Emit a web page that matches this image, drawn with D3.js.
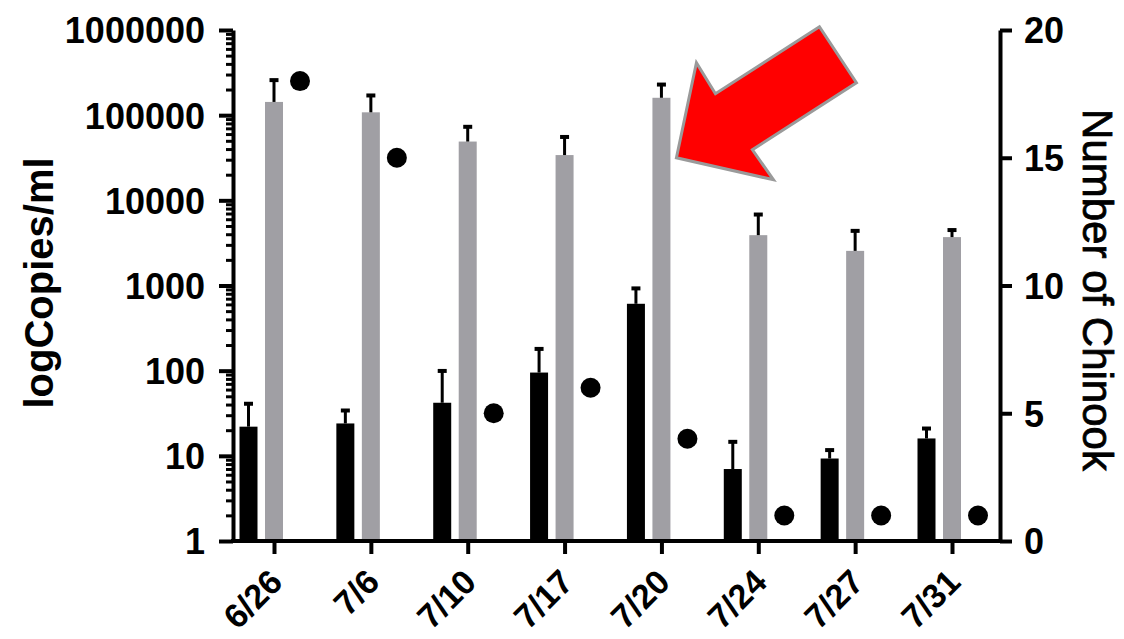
<!DOCTYPE html>
<html>
<head>
<meta charset="utf-8">
<script src="https://cdn.jsdelivr.net/npm/d3@7"></script>
<style>
  body { margin: 0; background: #fff; }
  text { font-family: "Liberation Sans", Arial, sans-serif; font-weight: bold; fill: #000; }
</style>
</head>
<body>
<div id="chart"></div>
<script>
// data
var dates = ["6/26", "7/6", "7/10", "7/17", "7/20", "7/24", "7/27", "7/31"];
var blackMean = [22, 24, 42, 95, 610, 7, 9.3, 16];
var blackErr  = [42, 35, 102, 185, 950, 15, 12, 21.5];
var greyMean  = [143000, 108000, 49000, 34000, 160000, 3900, 2550, 3700];
var greyErr   = [265000, 175000, 75000, 57000, 235000, 7000, 4500, 4600];
var chinook   = [18, 15, 5, 6, 4, 1, 1, 1];
var leftTicks = [1, 10, 100, 1000, 10000, 100000, 1000000];
var rightTicks = [0, 5, 10, 15, 20];

var width = 1124, height = 639;
var plotLeft = 233, plotRight = 1000, plotTop = 30, plotBottom = 541;

var svg = d3.select("#chart").append("svg")
    .attr("width", width)
    .attr("height", height);

var x = d3.scalePoint().domain(dates).range([274, 952]);
var y = d3.scaleLog().domain([1, 1e6]).range([plotBottom, plotTop]);
var y2 = d3.scaleLinear().domain([0, 20]).range([plotBottom, plotTop]);

var barW = 18, offset = 25.5;

// black bars
svg.append("g").selectAll("rect")
    .data(dates)
  .enter().append("rect")
    .attr("x", function(d) { return x(d) - offset - barW / 2; })
    .attr("width", barW)
    .attr("y", function(d, i) { return y(blackMean[i]); })
    .attr("height", function(d, i) { return plotBottom - y(blackMean[i]); })
    .style("fill", "#000");

// grey bars
svg.append("g").selectAll("rect")
    .data(dates)
  .enter().append("rect")
    .attr("x", function(d) { return x(d) - barW / 2; })
    .attr("width", barW)
    .attr("y", function(d, i) { return y(greyMean[i]); })
    .attr("height", function(d, i) { return plotBottom - y(greyMean[i]); })
    .style("fill", "#a09fa4");

// error bars (upper only)
function errBars(means, errs, dx) {
  var g = svg.append("g");
  dates.forEach(function(d, i) {
    var cx = x(d) + dx;
    g.append("line")
      .attr("x1", cx).attr("x2", cx)
      .attr("y1", y(means[i])).attr("y2", y(errs[i]))
      .style("stroke", "#000").style("stroke-width", 3);
    g.append("line")
      .attr("x1", cx - 4.5).attr("x2", cx + 4.5)
      .attr("y1", y(errs[i]) + 1).attr("y2", y(errs[i]) + 1)
      .style("stroke", "#000").style("stroke-width", 4);
  });
}
errBars(blackMean, blackErr, -offset);
errBars(greyMean, greyErr, 0);

// dots (right axis)
svg.append("g").selectAll("circle")
    .data(dates)
  .enter().append("circle")
    .attr("cx", function(d) { return x(d) + 26; })
    .attr("cy", function(d, i) { return y2(chinook[i]); })
    .attr("r", 10)
    .style("fill", "#000");

// left axis
var minor = [];
leftTicks.slice(0, -1).forEach(function(t) {
  for (var k = 2; k <= 9; k++) minor.push(t * k);
});
var gMinor = svg.append("g")
    .attr("transform", "translate(" + plotLeft + ",0)")
    .call(d3.axisLeft(y).tickValues(minor).tickSize(7).tickFormat(""));
gMinor.select(".domain").remove();
gMinor.selectAll("line").style("stroke-width", 3);

var gLeft = svg.append("g")
    .attr("transform", "translate(" + plotLeft + ",0)")
    .call(d3.axisLeft(y).tickValues(leftTicks).tickSize(14).tickSizeOuter(0).tickFormat(d3.format("d")));
gLeft.select(".domain").style("stroke-width", 4);
gLeft.selectAll("line").style("stroke-width", 4);
gLeft.selectAll("text").style("font-size", "36px").attr("x", -28).attr("dy", "0.36em");

// right axis
var gRight = svg.append("g")
    .attr("transform", "translate(" + plotRight + ",0)")
    .call(d3.axisRight(y2).tickValues(rightTicks).tickSize(12).tickSizeOuter(0));
gRight.select(".domain").style("stroke-width", 4);
gRight.selectAll("line").style("stroke-width", 4);
gRight.selectAll("text").style("font-size", "36px").attr("x", 24).attr("dy", "0.36em");

// x axis
var gX = svg.append("g")
    .attr("transform", "translate(0," + plotBottom + ")")
    .call(d3.axisBottom(x).tickSize(13).tickSizeOuter(0));
gX.select(".domain").attr("d", "M" + (plotLeft - 2) + ",0H" + (plotRight + 2)).style("stroke-width", 4);
gX.selectAll("line").style("stroke-width", 4);
gX.selectAll("text")
    .style("font-size", "34px")
    .style("text-anchor", "end")
    .attr("y", 0).attr("dy", 0)
    .attr("transform", "translate(10,43) rotate(-45)");

// axis titles
svg.append("text")
    .attr("transform", "translate(53,283) rotate(-90)")
    .style("text-anchor", "middle")
    .style("font-size", "40px")
    .text("logCopies/ml");

svg.append("text")
    .attr("transform", "translate(1083,290) rotate(90)")
    .style("text-anchor", "middle")
    .style("font-size", "42px")
    .style("font-weight", "normal")
    .style("stroke", "#000")
    .style("stroke-width", 0.8)
    .text("Number of Chinook");

// red arrow pointing at 7/20
var tipX = x("7/20") + 15, tipY = y2(15);
var arrow = [[0, 0], [20, -95], [39, -64], [143, -131], [180, -75], [76, -8], [97, 22]];
svg.append("polygon")
    .attr("points", arrow.map(function(p) { return (tipX + p[0]) + "," + (tipY + p[1]); }).join(" "))
    .style("fill", "#ff0000")
    .style("stroke", "#9a9a9a")
    .style("stroke-width", 3)
    .style("stroke-linejoin", "miter");
</script>
</body>
</html>
